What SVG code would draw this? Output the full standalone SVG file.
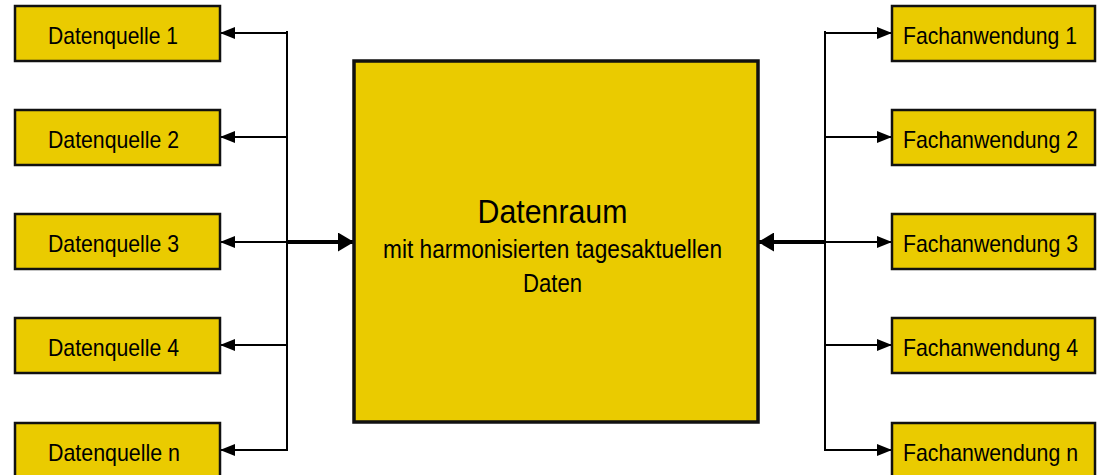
<svg xmlns="http://www.w3.org/2000/svg" width="1099" height="475" viewBox="0 0 1099 475">
  <style>
    .box { fill: #EACB00; stroke: #111; stroke-width: 2.5; }
    .main { fill: #EACB00; stroke: #111; stroke-width: 3.5; }
    .lbl { font-family: "Liberation Sans Narrow", "Arial Narrow", "Liberation Sans", Arial, sans-serif; font-size: 24px; fill: #000; }
    .title { font-family: "Liberation Sans Narrow", "Arial Narrow", "Liberation Sans", Arial, sans-serif; font-size: 34px; fill: #000; }
    .sub { font-family: "Liberation Sans Narrow", "Arial Narrow", "Liberation Sans", Arial, sans-serif; font-size: 26px; fill: #000; }
    .thin { stroke: #000; stroke-width: 2; fill: none; }
    .thick { stroke: #000; stroke-width: 4; fill: none; }
  </style>
  <defs>
    <marker id="ah" markerUnits="userSpaceOnUse" viewBox="0 0 15 12" markerWidth="15" markerHeight="12" refX="15" refY="6" orient="auto">
      <path d="M0,0 L15,6 L0,12 z" fill="#000"/>
    </marker>
    <marker id="ahb" markerUnits="userSpaceOnUse" viewBox="0 0 16 19" markerWidth="16" markerHeight="19" refX="16" refY="9.5" orient="auto">
      <path d="M0,0 L16,9.5 L0,19 z" fill="#000"/>
    </marker>
  </defs>

  <g id="connectors">
    <line class="thin" x1="287" y1="32" x2="287" y2="450" stroke-linecap="square"/>
    <line class="thin" x1="287" y1="33" x2="220" y2="33" marker-end="url(#ah)"/>
    <line class="thin" x1="287" y1="137" x2="220" y2="137" marker-end="url(#ah)"/>
    <line class="thin" x1="287" y1="242" x2="220" y2="242" marker-end="url(#ah)"/>
    <line class="thin" x1="287" y1="345" x2="220" y2="345" marker-end="url(#ah)"/>
    <line class="thin" x1="287" y1="450" x2="220" y2="450" marker-end="url(#ah)"/>
    <line class="thick" x1="287" y1="242" x2="354" y2="242" marker-end="url(#ahb)"/>

    <line class="thin" x1="825" y1="32" x2="825" y2="450" stroke-linecap="square"/>
    <line class="thin" x1="825" y1="33" x2="892" y2="33" marker-end="url(#ah)"/>
    <line class="thin" x1="825" y1="137" x2="892" y2="137" marker-end="url(#ah)"/>
    <line class="thin" x1="825" y1="242" x2="892" y2="242" marker-end="url(#ah)"/>
    <line class="thin" x1="825" y1="345" x2="892" y2="345" marker-end="url(#ah)"/>
    <line class="thin" x1="825" y1="450" x2="892" y2="450" marker-end="url(#ah)"/>
    <line class="thick" x1="825" y1="242" x2="758" y2="242" marker-end="url(#ahb)"/>
  </g>

  <g id="datenraum">
    <rect class="main" x="354" y="61" width="404" height="361"/>
    <text class="title" x="552.5" y="223" text-anchor="middle" textLength="150" lengthAdjust="spacingAndGlyphs">Datenraum</text>
    <text class="sub" x="552.5" y="258" text-anchor="middle" textLength="339" lengthAdjust="spacingAndGlyphs">mit harmonisierten tagesaktuellen</text>
    <text class="sub" x="552.5" y="292" text-anchor="middle" textLength="59" lengthAdjust="spacingAndGlyphs">Daten</text>
  </g>

  <g id="datenquelle-1">
    <rect class="box" x="15" y="6" width="205" height="55"/>
    <text class="lbl" x="48" y="44" textLength="130" lengthAdjust="spacingAndGlyphs">Datenquelle 1</text>
  </g>
  <g id="datenquelle-2">
    <rect class="box" x="15" y="110" width="205" height="55"/>
    <text class="lbl" x="48" y="148" textLength="131" lengthAdjust="spacingAndGlyphs">Datenquelle 2</text>
  </g>
  <g id="datenquelle-3">
    <rect class="box" x="15" y="214" width="205" height="55"/>
    <text class="lbl" x="48" y="252" textLength="131" lengthAdjust="spacingAndGlyphs">Datenquelle 3</text>
  </g>
  <g id="datenquelle-4">
    <rect class="box" x="15" y="318" width="205" height="55"/>
    <text class="lbl" x="48" y="356" textLength="131" lengthAdjust="spacingAndGlyphs">Datenquelle 4</text>
  </g>
  <g id="datenquelle-n">
    <rect class="box" x="15" y="423" width="205" height="55"/>
    <text class="lbl" x="48" y="461" textLength="132" lengthAdjust="spacingAndGlyphs">Datenquelle n</text>
  </g>

  <g id="fachanwendung-1">
    <rect class="box" x="892" y="6" width="203" height="55"/>
    <text class="lbl" x="903" y="44" textLength="174" lengthAdjust="spacingAndGlyphs">Fachanwendung 1</text>
  </g>
  <g id="fachanwendung-2">
    <rect class="box" x="892" y="110" width="203" height="55"/>
    <text class="lbl" x="903" y="148" textLength="175" lengthAdjust="spacingAndGlyphs">Fachanwendung 2</text>
  </g>
  <g id="fachanwendung-3">
    <rect class="box" x="892" y="214" width="203" height="55"/>
    <text class="lbl" x="903" y="252" textLength="175" lengthAdjust="spacingAndGlyphs">Fachanwendung 3</text>
  </g>
  <g id="fachanwendung-4">
    <rect class="box" x="892" y="318" width="203" height="55"/>
    <text class="lbl" x="903" y="356" textLength="175" lengthAdjust="spacingAndGlyphs">Fachanwendung 4</text>
  </g>
  <g id="fachanwendung-n">
    <rect class="box" x="892" y="423" width="203" height="55"/>
    <text class="lbl" x="903" y="461" textLength="175" lengthAdjust="spacingAndGlyphs">Fachanwendung n</text>
  </g>
</svg>
